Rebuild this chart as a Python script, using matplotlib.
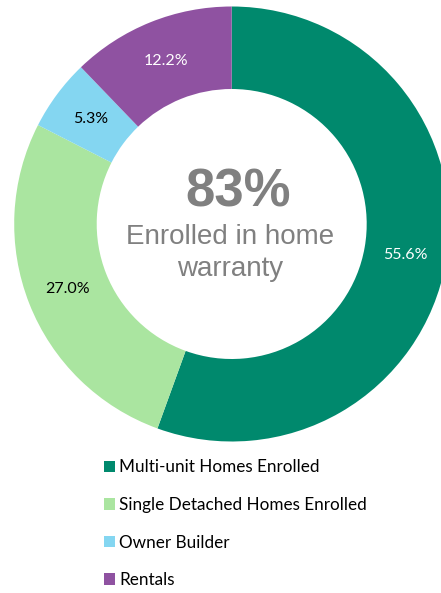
import matplotlib
matplotlib.use("Agg")
import matplotlib.pyplot as plt

categories = ["Multi-unit Homes Enrolled", "Single Detached Homes Enrolled",
              "Owner Builder", "Rentals"]
values = [55.6, 27.0, 5.3, 12.2]
colors = ["#00896D", "#AAE5A0", "#84D6F1", "#8F52A1"]
label_colors = ["white", "black", "black", "white"]
center_big = "83%"
center_lines = ["Enrolled in home", "warranty"]

W, H = 441, 593
fig = plt.figure(figsize=(W / 100, H / 100), dpi=100)
ax = fig.add_axes([0, 0, 1, 1])

cx, cy = 231.7, H - 224.0
R_out, R_in = 217.5, 135.0

wedges, texts = ax.pie(
    values,
    labels=[f"{v:.1f}%" for v in values],
    colors=colors,
    startangle=90,
    counterclock=False,
    center=(cx, cy),
    radius=R_out,
    labeldistance=((R_out + R_in) / 2) / R_out,
    wedgeprops=dict(width=R_out - R_in, linewidth=0),
    textprops=dict(family="Lato", fontsize=11.5),
)
for t, c in zip(texts, label_colors):
    t.set_ha("center")
    t.set_va("center")
    t.set_color(c)

ax.set_xlim(0, W)
ax.set_ylim(0, H)
ax.set_aspect("equal")
ax.axis("off")

ax.text(238, H - 206.5, center_big, ha="center", va="baseline",
        fontsize=38, fontweight="bold", color="#808080", family="Liberation Sans")
for i, line in enumerate(center_lines):
    ax.text(230.5, H - (244.5 + 31.5 * i), line, ha="center", va="baseline",
            fontsize=20, color="#808080", family="Liberation Sans")

leg = ax.legend(wedges, categories, loc="upper left",
                bbox_to_anchor=(104 / W, 1 - 459.5 / H), bbox_transform=fig.transFigure,
                frameon=False, borderpad=0, borderaxespad=0,
                handlelength=0.65, handleheight=0.65, handletextpad=0.25,
                labelspacing=1.26, prop=dict(family="Lato", size=12.3))

fig.savefig("out.png", dpi=100)
